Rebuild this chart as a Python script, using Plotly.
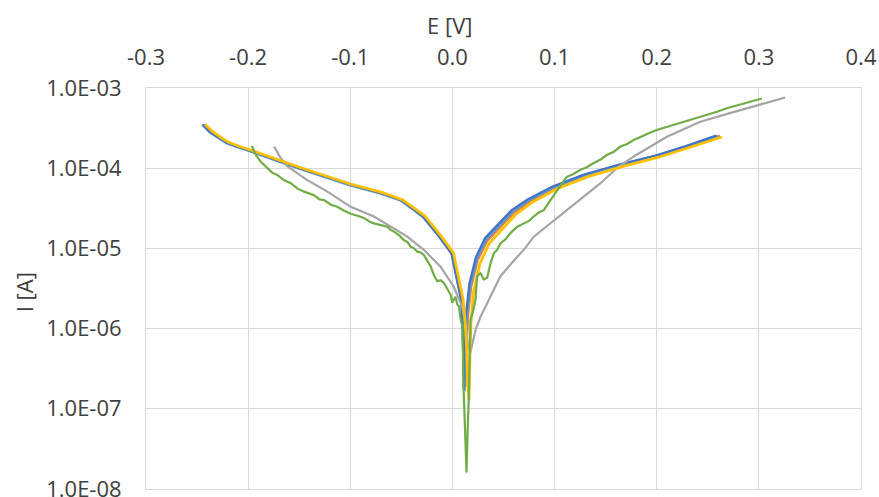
import plotly.graph_objects as go

# ---- data ----
E_blue = [-0.245, -0.238, -0.228, -0.221, -0.211, -0.201, -0.15, -0.1, -0.07, -0.05, -0.029, -0.013,
          -0.001, 0.004, 0.0085, 0.0098, 0.0105, 0.0112, 0.0118, 0.0125, 0.0135, 0.0165, 0.023, 0.032,
          0.045, 0.058, 0.074, 0.098, 0.128, 0.165, 0.198, 0.228, 0.258]
I_blue = [3.5e-4, 2.85e-4, 2.35e-4, 2.08e-4, 1.86e-4, 1.7e-4, 1.01e-4, 6.3e-5, 4.9e-5, 4.0e-5, 2.5e-5, 1.4e-5,
          8.7e-6, 4.4e-6, 2.3e-6, 1.2e-6, 5e-7, 1.7e-7, 5e-7, 1.0e-6, 1.6e-6, 3.6e-6, 7.8e-6, 1.35e-5,
          2.0e-5, 3.0e-5, 4.1e-5, 5.9e-5, 8.3e-5, 1.13e-4, 1.43e-4, 1.88e-4, 2.55e-4]

E_orange = [-0.243, -0.236, -0.227, -0.22, -0.21, -0.2, -0.15, -0.1, -0.07, -0.05, -0.028, -0.012,
            0.0, 0.005, 0.0095, 0.011, 0.0118, 0.0126, 0.0133, 0.014, 0.015, 0.018, 0.0245, 0.034,
            0.047, 0.06, 0.076, 0.1, 0.13, 0.167, 0.2, 0.23, 0.262]
I_orange = [3.5e-4, 2.85e-4, 2.35e-4, 2.08e-4, 1.86e-4, 1.69e-4, 1.0e-4, 6.2e-5, 4.9e-5, 4.0e-5, 2.5e-5, 1.4e-5,
            8.7e-6, 4.4e-6, 2.3e-6, 1.2e-6, 5e-7, 1.9e-7, 5e-7, 1.0e-6, 1.5e-6, 3.3e-6, 7.2e-6, 1.26e-5,
            1.85e-5, 2.8e-5, 3.9e-5, 5.7e-5, 8.0e-5, 1.1e-4, 1.4e-4, 1.85e-4, 2.5e-4]

E_lblue = [-0.244, -0.237, -0.2275, -0.2205, -0.2105, -0.2005, -0.15, -0.1, -0.07, -0.05, -0.0285, -0.0125,
           -0.0005, 0.0045, 0.009, 0.0103, 0.011, 0.0117, 0.0124, 0.0132, 0.0142, 0.0172, 0.0238, 0.033,
           0.046, 0.059, 0.075, 0.099, 0.129, 0.166, 0.199, 0.229, 0.26]
I_lblue = [3.45e-4, 2.8e-4, 2.32e-4, 2.05e-4, 1.84e-4, 1.68e-4, 9.9e-5, 6.15e-5, 4.85e-5, 3.95e-5, 2.48e-5, 1.39e-5,
           8.6e-6, 4.3e-6, 2.2e-6, 1.1e-6, 4.5e-7, 1.65e-7, 4.5e-7, 9.5e-7, 1.5e-6, 3.4e-6, 7.5e-6, 1.3e-5,
           1.92e-5, 2.9e-5, 4.0e-5, 5.8e-5, 8.1e-5, 1.11e-4, 1.41e-4, 1.86e-4, 2.52e-4]

E_yellow = [-0.242, -0.235, -0.226, -0.219, -0.209, -0.199, -0.149, -0.099, -0.069, -0.049, -0.027, -0.011,
            0.001, 0.006, 0.0105, 0.0125, 0.0138, 0.015, 0.0162, 0.0172, 0.0182, 0.0205, 0.027, 0.036,
            0.049, 0.062, 0.078, 0.102, 0.132, 0.169, 0.202, 0.232, 0.264]
I_yellow = [3.5e-4, 2.88e-4, 2.38e-4, 2.1e-4, 1.88e-4, 1.71e-4, 1.02e-4, 6.3e-5, 5.0e-5, 4.05e-5, 2.55e-5, 1.42e-5,
            8.8e-6, 4.5e-6, 2.3e-6, 1.2e-6, 6e-7, 2.0e-7, 1.3e-7, 5e-7, 1.2e-6, 2.8e-6, 6.5e-6, 1.15e-5,
            1.75e-5, 2.65e-5, 3.75e-5, 5.5e-5, 7.8e-5, 1.07e-4, 1.37e-4, 1.8e-4, 2.45e-4]

E_gray = [-0.1746, -0.168, -0.1615, -0.142, -0.1224, -0.0996, -0.0768, -0.0605, -0.0442, -0.028, -0.0116,
          0.0014, 0.0096, 0.013, 0.0155, 0.0175, 0.0195, 0.023, 0.0275, 0.0373, 0.047, 0.06, 0.071,
          0.0796, 0.095, 0.112, 0.128, 0.145, 0.161, 0.1775, 0.21, 0.2426, 0.275, 0.298, 0.3257]
I_gray = [1.86e-4, 1.33e-4, 1.05e-4, 7.1e-5, 5.1e-5, 3.3e-5, 2.5e-5, 1.87e-5, 1.4e-5, 9.6e-6, 5.9e-6,
          3.3e-6, 1.87e-6, 1.1e-6, 6e-7, 5e-7, 6.5e-7, 1.0e-6, 1.4e-6, 2.5e-6, 4.5e-6, 7.0e-6, 1.0e-5,
          1.4e-5, 2.0e-5, 3.0e-5, 4.4e-5, 6.5e-5, 1.0e-4, 1.4e-4, 2.46e-4, 3.8e-4, 5.0e-4, 6.1e-4, 7.6e-4]

E_green = [-0.1964, -0.1925, -0.1876, -0.184, -0.181, -0.1765, -0.1713, -0.165, -0.1582, -0.152, -0.1452,
           -0.1405, -0.1355, -0.1305, -0.1257, -0.119, -0.1127, -0.106, -0.0996, -0.093, -0.0866, -0.081,
           -0.0768, -0.07, -0.0638, -0.0605, -0.0573, -0.052, -0.0476, -0.044, -0.041, -0.0375, -0.0344,
           -0.031, -0.028, -0.0245, -0.0214, -0.018, -0.0148, -0.0115, -0.0084, -0.006, -0.0035, -0.0015,
           -0.0002, 0.0015, 0.003, 0.0048, 0.0063, 0.0085, 0.0098, 0.011, 0.0125, 0.0138, 0.015, 0.016,
           0.0177, 0.02, 0.0226, 0.0242, 0.0275, 0.0307, 0.034, 0.0373, 0.0405, 0.0438, 0.047, 0.052,
           0.0568, 0.0634, 0.07, 0.075, 0.0796, 0.0845, 0.0894, 0.096, 0.1025, 0.107, 0.112, 0.118, 0.125,
           0.131, 0.138, 0.145, 0.151, 0.158, 0.1644, 0.171, 0.1775, 0.184, 0.1905, 0.195, 0.2, 0.208,
           0.2165, 0.225, 0.2328, 0.241, 0.249, 0.259, 0.2686, 0.277, 0.285, 0.294, 0.303]
I_green = [1.89e-4, 1.46e-4, 1.2e-4, 1.08e-4, 1.0e-4, 8.8e-5, 8.2e-5, 7.1e-5, 6.5e-5, 5.6e-5, 5.1e-5,
           4.9e-5, 4.6e-5, 4.1e-5, 4.0e-5, 3.5e-5, 3.3e-5, 2.95e-5, 2.7e-5, 2.55e-5, 2.4e-5, 2.15e-5,
           2.05e-5, 1.95e-5, 1.86e-5, 1.7e-5, 1.62e-5, 1.45e-5, 1.27e-5, 1.2e-5, 1.05e-5, 1.0e-5, 9.1e-6,
           8.9e-6, 8.3e-6, 7.0e-6, 6.0e-6, 4.6e-6, 3.9e-6, 4.0e-6, 3.7e-6, 3.3e-6, 2.9e-6, 2.6e-6,
           2.1e-6, 2.3e-6, 2.5e-6, 2.0e-6, 1.9e-6, 1.2e-6, 1.1e-6, 1.7e-7, 6e-8, 1.6e-8, 6e-8, 1.3e-7,
           1.3e-6, 1.6e-6, 2.3e-6, 4.5e-6, 4.9e-6, 4.1e-6, 4.3e-6, 6.5e-6, 8.7e-6, 9.6e-6, 1.15e-5, 1.3e-5,
           1.55e-5, 1.86e-5, 2.05e-5, 2.2e-5, 2.5e-5, 2.8e-5, 3.0e-5, 4.0e-5, 5.4e-5, 6.4e-5, 7.8e-5, 8.4e-5,
           9.5e-5, 1.02e-4, 1.15e-4, 1.28e-4, 1.46e-4, 1.6e-4, 1.86e-4, 2.0e-4, 2.24e-4, 2.45e-4, 2.7e-4,
           2.82e-4, 3.0e-4, 3.22e-4, 3.5e-4, 3.72e-4, 4.0e-4, 4.25e-4, 4.6e-4, 5.05e-4, 5.6e-4, 6.0e-4,
           6.45e-4, 6.9e-4, 7.4e-4]

x_ticks = [-0.3, -0.2, -0.1, 0.0, 0.1, 0.2, 0.3, 0.4]
x_labels = ["-0.3", "-0.2", "-0.1", "0.0", "0.1", "0.2", "0.3", "0.4"]
y_ticks = [1e-8, 1e-7, 1e-6, 1e-5, 1e-4, 1e-3]
y_labels = ["1.0E-08", "1.0E-07", "1.0E-06", "1.0E-05", "1.0E-04", "1.0E-03"]

series = [
    ("1", E_orange, I_orange, "#ED7D31", 3.0),
    ("2", E_lblue, I_lblue, "#5B9BD5", 2.8),
    ("3", E_blue, I_blue, "#4472C4", 2.2),
    ("4", E_gray, I_gray, "#A5A5A5", 2.2),
    ("5", E_yellow, I_yellow, "#FFC000", 2.8),
    ("6", E_green, I_green, "#70AD47", 2.2),
]

fig = go.Figure()
for name, xs, ys, col, w in series:
    fig.add_trace(go.Scatter(x=xs, y=ys, mode="lines", name=name,
                             line=dict(color=col, width=w), showlegend=False))

FONT = "Open Sans"
fig.update_layout(
    width=879, height=497,
    margin=dict(l=146, r=18, t=88, b=8),
    paper_bgcolor="white", plot_bgcolor="white",
    font=dict(family=FONT, size=22, color="#404040"),
    xaxis=dict(side="top", range=[-0.3, 0.4], tickvals=x_ticks, ticktext=x_labels,
               showgrid=True, gridcolor="#D9D9D9", gridwidth=1, zeroline=False,
               showline=True, linecolor="#D9D9D9", mirror=True, ticks="",
               ticklabelstandoff=13, automargin=False, ticklabeloverflow="allow"),
    yaxis=dict(type="log", range=[-8.0005, -3], tickvals=y_ticks, ticktext=y_labels,
               showgrid=True, gridcolor="#D9D9D9", gridwidth=1, zeroline=False,
               showline=True, linecolor="#D9D9D9", mirror=True, ticks="",
               ticklabelstandoff=19, automargin=False, ticklabeloverflow="allow"),
    annotations=[
        dict(text="E [V]", xref="paper", yref="paper", x=0.424, y=1.158,
             xanchor="center", yanchor="middle",
             showarrow=False, font=dict(family=FONT, size=22, color="#404040")),
        dict(text="I [A]", xref="paper", yref="paper", x=-0.171, y=0.49, textangle=-90,
             xanchor="center", yanchor="middle",
             showarrow=False, font=dict(family=FONT, size=22, color="#404040")),
    ],
)

# remove the default page margin and scrollbars so the figure fills the window exactly
fig.write_html("out.html",
               config={"displayModeBar": False},
               post_script="document.body.style.margin='0';document.body.style.overflow='hidden';")
